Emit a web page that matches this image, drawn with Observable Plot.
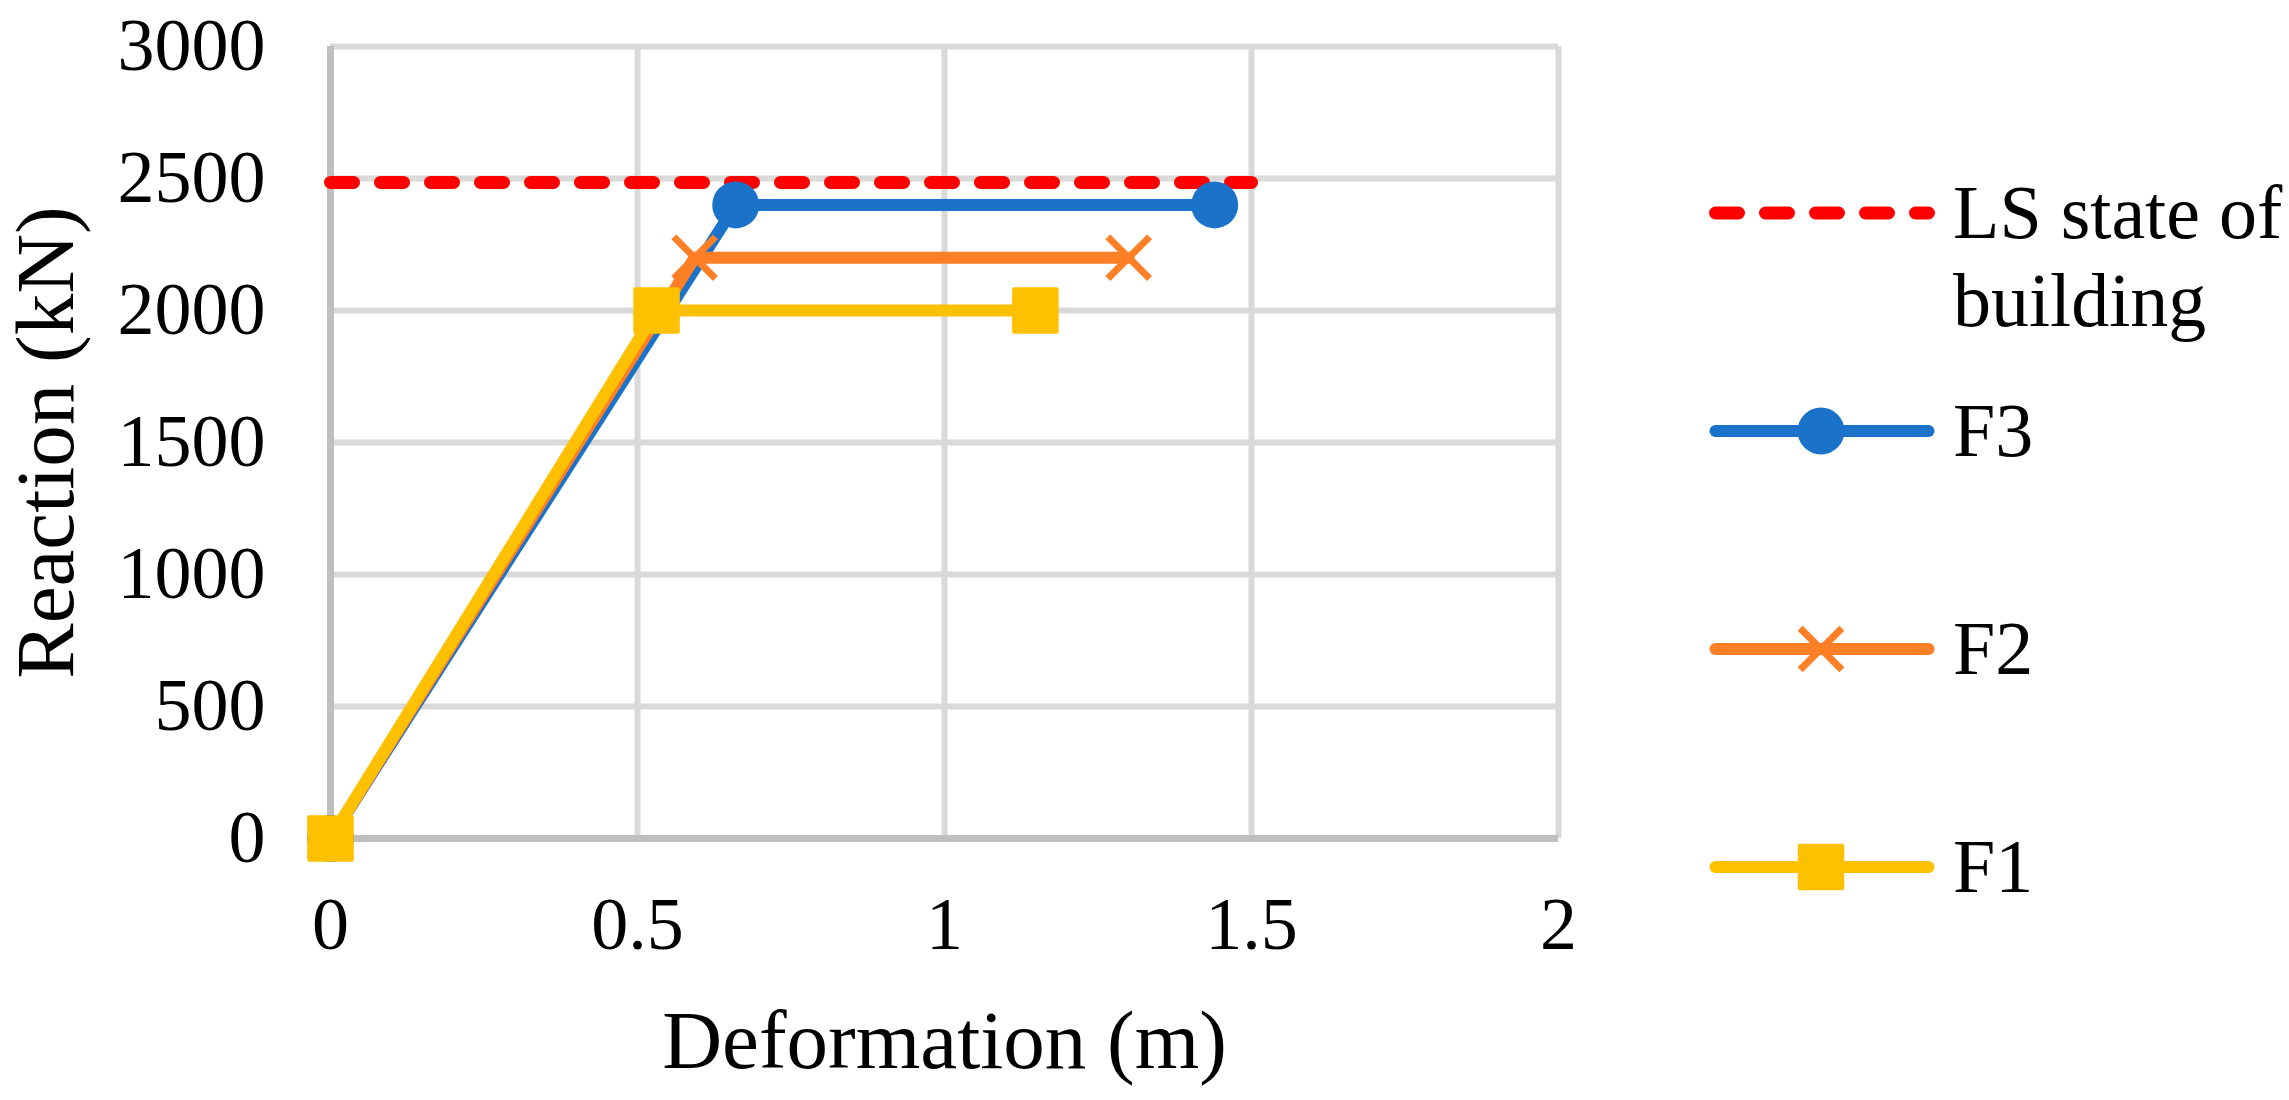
<!DOCTYPE html>
<html><head><meta charset="utf-8">
<script src="https://cdn.jsdelivr.net/npm/d3@7"></script>
<script src="https://cdn.jsdelivr.net/npm/@observablehq/plot@0.6"></script>
<style>
body{margin:0;background:#fff;}
#wrap{position:relative;width:2289px;height:1100px;overflow:hidden;background:#fff;font-family:"Liberation Serif","Times New Roman",serif;}
#chart{position:absolute;left:0;top:0;}
#legend{position:absolute;left:1640px;top:0;}
</style></head><body>
<div id="wrap"><div id="chart"></div><div id="legend"></div></div>
<script>
// ---- data ----
const xTicks = [0, 0.5, 1, 1.5, 2];
const yTicks = [0, 500, 1000, 1500, 2000, 2500, 3000];
const seriesNames = ["LS state of building", "F3", "F2", "F1"];
const lsX = [0, 1.5];
const lsY = [2485, 2485];
const f3X = [0, 0.66, 1.44];
const f3Y = [0, 2400, 2400];
const f2X = [0, 0.593, 1.30];
const f2Y = [0, 2200, 2200];
const f1X = [0, 0.531, 1.148];
const f1Y = [0, 2000, 2000];
const xLabel = "Deformation (m)";
const yLabel = "Reaction (kN)";

// ---- styles ----
const colRed = "#ff0000", colBlue = "#1a73c8", colOrange = "#ff7f27", colYellow = "#ffc000";
const rows = (xs, ys) => xs.map((x, i) => ({x, y: ys[i]}));
const ls = rows(lsX, lsY), f3 = rows(f3X, f3Y), f2 = rows(f2X, f2Y), f1 = rows(f1X, f1Y);

const lineW = 12;
const chart = Plot.plot({
  width: 1640, height: 1100,
  marginLeft: 330, marginRight: 82, marginTop: 46, marginBottom: 262,
  style: {fontFamily: '"Liberation Serif","Times New Roman",serif', fontSize: "74px", color: "#000", background: "#fff", overflow: "visible"},
  x: {domain: [0, 2], ticks: xTicks, tickSize: 0, tickPadding: 58, tickFormat: d => String(d), label: null},
  y: {domain: [0, 3000], ticks: yTicks, tickSize: 0, tickPadding: 65, tickFormat: d => String(d), label: null},
  marks: [
    Plot.gridX(xTicks.slice(1), {stroke: "#d9d9d9", strokeWidth: 6, strokeOpacity: 1}),
    Plot.gridY(yTicks.slice(1), {stroke: "#d9d9d9", strokeWidth: 6, strokeOpacity: 1}),
    Plot.ruleX([0], {stroke: "#bfbfbf", strokeWidth: 7}),
    Plot.ruleY([0], {stroke: "#bfbfbf", strokeWidth: 7}),
    Plot.line(ls, {x: "x", y: "y", stroke: colRed, strokeWidth: 13, strokeDasharray: "23 27", strokeLinecap: "round"}),
    Plot.line(f3, {x: "x", y: "y", stroke: colBlue, strokeWidth: lineW, strokeLinejoin: "round", strokeLinecap: "round"}),
    Plot.dot(f3, {x: "x", y: "y", symbol: "circle", r: 23.5, fill: colBlue}),
    Plot.line(f2, {x: "x", y: "y", stroke: colOrange, strokeWidth: lineW, strokeLinejoin: "round", strokeLinecap: "round"}),
    Plot.dot(f2, {x: "x", y: "y", symbol: "times", r: 19, stroke: colOrange, strokeWidth: 7, fill: "none"}),
    Plot.line(f1, {x: "x", y: "y", stroke: colYellow, strokeWidth: lineW, strokeLinejoin: "round", strokeLinecap: "round"}),
    Plot.dot(f1, {x: "x", y: "y", symbol: "square", r: 24, fill: colYellow, stroke: colYellow, strokeWidth: 4, strokeLinejoin: "round"}),
    Plot.text([xLabel], {text: d => d, frameAnchor: "bottom", dy: 203, fontSize: 83, textAnchor: "middle", lineAnchor: "middle", fill: "#000"}),
    Plot.text([yLabel], {text: d => d, frameAnchor: "left", dx: -284, rotate: -90, fontSize: 83, textAnchor: "middle", lineAnchor: "middle", fill: "#000"})
  ]
});
document.getElementById("chart").appendChild(chart);

// ---- legend ----
const lg = d3.select("#legend").append("svg").attr("width", 649).attr("height", 1100)
  .style("font-family", '"Liberation Serif","Times New Roman",serif');
const rowY = [213, 431, 649, 867];
const lx1 = 75.5, lx2 = 288.5, mx = 181, tx = 313;
const items = [
  {name: seriesNames[0], color: colRed, dash: "23 27", sym: null},
  {name: seriesNames[1], color: colBlue, sym: "circle"},
  {name: seriesNames[2], color: colOrange, sym: "times"},
  {name: seriesNames[3], color: colYellow, sym: "square"}
];
items.forEach((it, i) => {
  const y = rowY[i];
  const g = lg.append("g");
  const ln = g.append("line").attr("x1", lx1).attr("x2", lx2).attr("y1", y).attr("y2", y)
    .attr("stroke", it.color).attr("stroke-width", it.dash ? 13 : lineW).attr("stroke-linecap", "round");
  if (it.dash) ln.attr("stroke-dasharray", it.dash);
  if (it.sym === "circle") {
    g.append("path").attr("d", d3.symbol(d3.symbolCircle, Math.PI * 23.5 * 23.5)()).attr("transform", `translate(${mx},${y})`).attr("fill", it.color);
  } else if (it.sym === "times") {
    g.append("path").attr("d", d3.symbol(d3.symbolTimes, Math.PI * 19 * 19)()).attr("transform", `translate(${mx},${y})`)
      .attr("fill", "none").attr("stroke", it.color).attr("stroke-width", 7);
  } else if (it.sym === "square") {
    g.append("path").attr("d", d3.symbol(d3.symbolSquare, Math.PI * 24 * 24)()).attr("transform", `translate(${mx},${y})`)
      .attr("fill", it.color).attr("stroke", it.color).attr("stroke-width", 4).attr("stroke-linejoin", "round");
  }
  const t = g.append("text").attr("x", tx).attr("y", y).attr("dy", "0.33em").attr("font-size", 76).attr("fill", "#000");
  if (i === 0) {
    t.append("tspan").attr("x", tx).text("LS state of");
    t.append("tspan").attr("x", tx).attr("dy", "1.16em").text("building");
  } else {
    t.text(it.name);
  }
});
</script>
</body></html>
